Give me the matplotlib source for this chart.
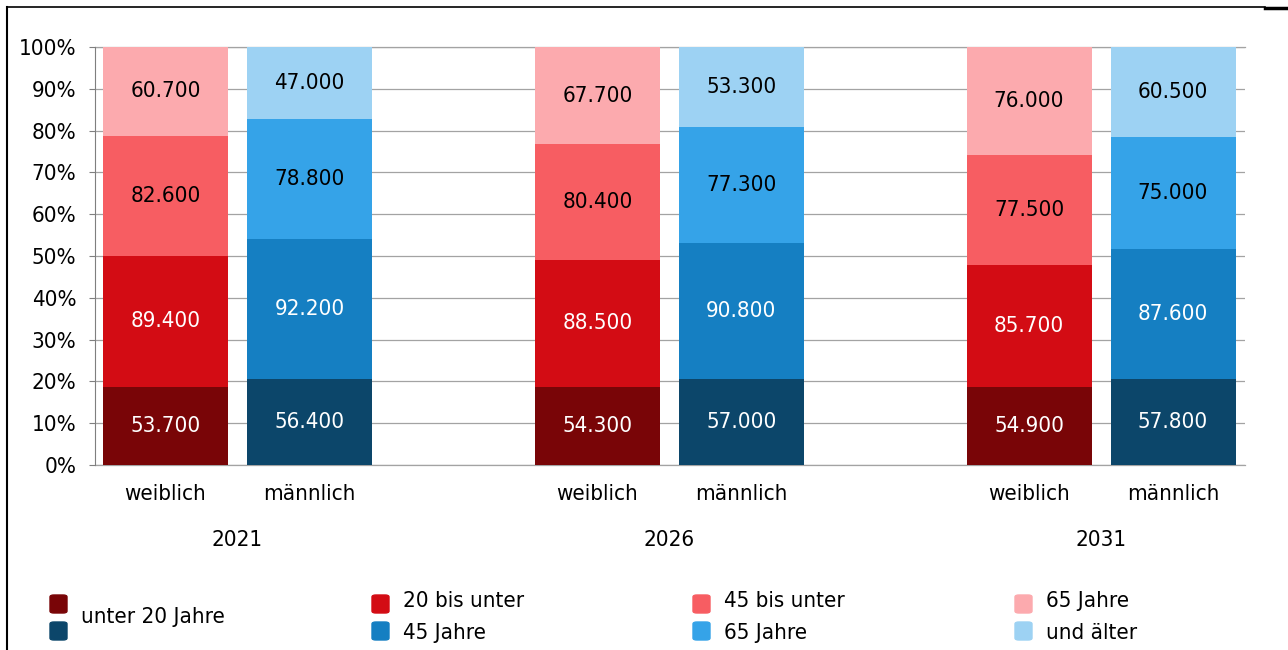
import numpy as np
import matplotlib.pyplot as plt
from matplotlib.lines import Line2D
from matplotlib.patches import FancyBboxPatch
from matplotlib.ticker import PercentFormatter

plt.rcParams['font.family'] = 'DejaVu Sans'
plt.rcParams['font.stretch'] = 'condensed'

years = ['2021', '2026', '2031']
sexes = ['weiblich', 'männlich']
age_groups = ['unter 20 Jahre', '20 bis unter\n45 Jahre', '45 bis unter\n65 Jahre', '65 Jahre\nund älter']

# Personen je Altersgruppe
weiblich = {'2021': [53700, 89400, 82600, 60700],
            '2026': [54300, 88500, 80400, 67700],
            '2031': [54900, 85700, 77500, 76000]}
maennlich = {'2021': [56400, 92200, 78800, 47000],
             '2026': [57000, 90800, 77300, 53300],
             '2031': [57800, 87600, 75000, 60500]}

col_w = ['#790507', '#d30c14', '#f75d62', '#fcaaae']
col_m = ['#0c466a', '#157fc2', '#35a3e8', '#9dd2f3']
txt_col = ['white', 'white', 'black', 'black']
fs = 16

def fmt(v):
    return f'{v:,}'.replace(',', '.')

fig = plt.figure(figsize=(12.88, 6.5), dpi=100)
ax = fig.add_axes([95/1288, 1-465/650, 1150/1288, 418/650])

for g, yr in enumerate(years):
    for s, (data, cols) in enumerate([(weiblich, col_w), (maennlich, col_m)]):
        vals = np.array(data[yr], dtype=float)
        pct = vals / vals.sum() * 100
        bottom = 0
        x = 3*g + s
        for k in range(4):
            ax.bar(x, pct[k], bottom=bottom, width=0.868, color=cols[k], zorder=3)
            ax.text(x, bottom + pct[k]/2, fmt(int(vals[k])), ha='center', va='center',
                    color=txt_col[k], fontsize=fs, zorder=4)
            bottom += pct[k]
        ax.text(x, -7, sexes[s], ha='center', va='center', fontsize=fs)
    ax.text(3*g + 0.5, -18, yr, ha='center', va='center', fontsize=fs)

ax.set_xlim(-0.49, 7.5)
ax.set_ylim(0, 100)
ax.set_yticks(np.arange(0, 101, 10))
ax.yaxis.set_major_formatter(PercentFormatter(decimals=0))
ax.set_xticks([])
ax.grid(axis='y', color='#a3a3a3', linewidth=0.9, zorder=0)
for sp in ['top', 'right', 'bottom']:
    ax.spines[sp].set_visible(False)
ax.spines['left'].set_color('#7f7f7f')
ax.tick_params(axis='y', length=4.5, color='#7f7f7f', labelsize=fs, pad=9)
ax.axhline(0, color='#a3a3a3', linewidth=0.9, zorder=1, clip_on=False)
ax.axhline(100, color='#a3a3a3', linewidth=0.9, zorder=1, clip_on=False)

# Legende
leg_x = [50, 372, 693, 1015]
for i in range(4):
    for r, cols in enumerate([col_w, col_m]):
        y0 = 595 + r*27
        fig.patches.append(FancyBboxPatch((leg_x[i]/1288, 1-(y0+18)/650), 17/1288, 18/650,
                                          boxstyle='round,pad=0,rounding_size=0.003',
                                          transform=fig.transFigure, color=cols[i]))
    parts = age_groups[i].split('\n')
    tx = (leg_x[i] + 31) / 1288
    if len(parts) == 1:
        fig.text(tx, 1-617/650, parts[0], ha='left', va='center', fontsize=fs)
    else:
        fig.text(tx, 1-601/650, parts[0], ha='left', va='center', fontsize=fs)
        fig.text(tx, 1-633/650, parts[1], ha='left', va='center', fontsize=fs)

# Rahmen
fig.lines.append(Line2D([7/1288, 7/1288], [0, 1-7/650], transform=fig.transFigure, color='black', lw=1.5))
fig.lines.append(Line2D([7/1288, 1265/1288], [1-7/650, 1-7/650], transform=fig.transFigure, color='black', lw=1.2))
fig.lines.append(Line2D([1265/1288, 1], [1-8/650, 1-8/650], transform=fig.transFigure, color='black', lw=2.5))

fig.savefig('out.png', dpi=100)
